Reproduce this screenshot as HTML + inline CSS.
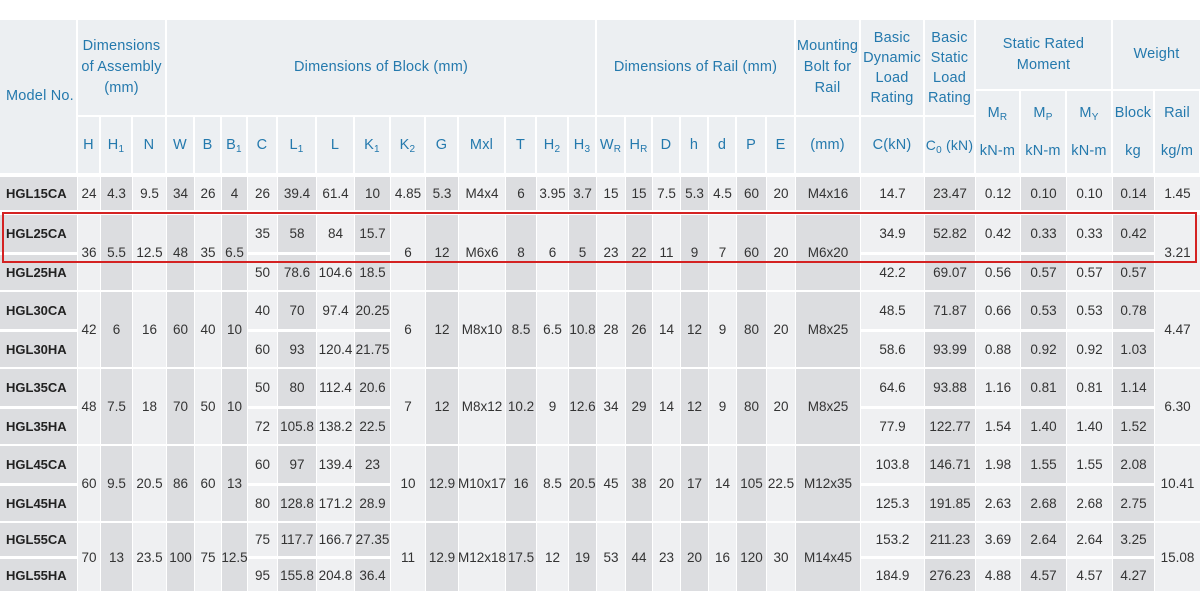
<!DOCTYPE html>
<html><head><meta charset="utf-8">
<style>
body{margin:0;width:1200px;height:600px;background:#fff;position:relative;overflow:hidden;font-family:"Liberation Sans",sans-serif}
.c{position:absolute;display:flex;align-items:center;justify-content:center;text-align:center;box-sizing:border-box}
.h{background:#eceff2;color:#2479ad;font-size:14.5px;line-height:21px;letter-spacing:0.2px}
.t{color:#333;font-size:13.5px}
sub{font-size:10px;vertical-align:-3px;line-height:0}
</style></head><body>
<script>
const cols=[[0,77],[78,100],[101,132],[133,166],[167,194],[195,221],[222,247],[248,277],[278,316],[317,354],[355,390],[391,425],[426,458],[459,505],[506,536],[537,568],[569,596],[597,625],[626,652],[653,680],[681,708],[709,736],[737,766],[767,795],[796,860],[861,924],[925,975],[976,1020],[1021,1066],[1067,1112],[1113,1154],[1155,1200]];
let out="";
function cell(x0,x1,y0,y1,bg,txt,cls,extra){out+=`<div class="c ${cls}" style="left:${x0}px;top:${y0}px;width:${x1-x0}px;height:${y1-y0}px;background:${bg};${extra||''}"><span>${txt}</span></div>`;}
const LIGHT="#eff0f2",DARK="#dcdde0",HB="#eceff2";
function H(x0,x1,y0,y1,t,ex){cell(x0,x1,y0,y1,HB,t,"h",ex);}
H(0,76,20,173,"Model No.","justify-content:flex-start;padding-left:6px;");
H(78,165,20,115,"Dimensions<br>of Assembly<br>(mm)");
H(167,595,20,115,"Dimensions of Block (mm)");
H(597,794,20,115,"Dimensions of Rail (mm)");
H(796,859,20,115,"Mounting<br>Bolt for<br>Rail");
H(861,923,20,115,"Basic<br>Dynamic<br>Load<br>Rating","line-height:20px");
H(925,974,20,115,"Basic<br>Static<br>Load<br>Rating","line-height:20px");
H(976,1111,20,89,"Static Rated<br>Moment");
H(1113,1200,20,89,"Weight");
const sub=["H","H<sub>1</sub>","N","W","B","B<sub>1</sub>","C","L<sub>1</sub>","L","K<sub>1</sub>","K<sub>2</sub>","G","Mxl","T","H<sub>2</sub>","H<sub>3</sub>","W<sub>R</sub>","H<sub>R</sub>","D","h","d","P","E","(mm)","C(kN)","C<sub>0</sub> (kN)"];
for(let i=1;i<=26;i++){H(cols[i][0],cols[i][1]-1,117,173,sub[i-1],i==26?"white-space:nowrap;font-size:14px":"white-space:nowrap");}
const mh=["M<sub>R</sub><br><br>kN-m","M<sub>P</sub><br><br>kN-m","M<sub>Y</sub><br><br>kN-m","Block<br><br>kg","Rail<br><br>kg/m"];
for(let i=27;i<=31;i++){H(cols[i][0],cols[i][1]-1,91,173,mh[i-27],"line-height:19px;white-space:nowrap");}
const groups=[
[177,210,["HGL15CA"],[["24","4.3","9.5","34","26","4","26","39.4","61.4","10","4.85","5.3","M4x4","6","3.95","3.7","15","15","7.5","5.3","4.5","60","20","M4x16","14.7","23.47","0.12","0.10","0.10","0.14","1.45"]]],
[215,290,["HGL25CA","HGL25HA"],[["36","5.5","12.5","48","35","6.5"],["35","58","84","15.7"],["50","78.6","104.6","18.5"],["6","12","M6x6","8","6","5","23","22","11","9","7","60","20","M6x20"],["34.9","52.82","0.42","0.33","0.33","0.42"],["42.2","69.07","0.56","0.57","0.57","0.57"],["3.21"]]],
[292,367,["HGL30CA","HGL30HA"],[["42","6","16","60","40","10"],["40","70","97.4","20.25"],["60","93","120.4","21.75"],["6","12","M8x10","8.5","6.5","10.8","28","26","14","12","9","80","20","M8x25"],["48.5","71.87","0.66","0.53","0.53","0.78"],["58.6","93.99","0.88","0.92","0.92","1.03"],["4.47"]]],
[369,444,["HGL35CA","HGL35HA"],[["48","7.5","18","70","50","10"],["50","80","112.4","20.6"],["72","105.8","138.2","22.5"],["7","12","M8x12","10.2","9","12.6","34","29","14","12","9","80","20","M8x25"],["64.6","93.88","1.16","0.81","0.81","1.14"],["77.9","122.77","1.54","1.40","1.40","1.52"],["6.30"]]],
[446,521,["HGL45CA","HGL45HA"],[["60","9.5","20.5","86","60","13"],["60","97","139.4","23"],["80","128.8","171.2","28.9"],["10","12.9","M10x17","16","8.5","20.5","45","38","20","17","14","105","22.5","M12x35"],["103.8","146.71","1.98","1.55","1.55","2.08"],["125.3","191.85","2.63","2.68","2.68","2.75"],["10.41"]]],
[523,591,["HGL55CA","HGL55HA"],[["70","13","23.5","100","75","12.5"],["75","117.7","166.7","27.35"],["95","155.8","204.8","36.4"],["11","12.9","M12x18","17.5","12","19","53","44","23","20","16","120","30","M14x45"],["153.2","211.23","3.69","2.64","2.64","3.25"],["184.9","276.23","4.88","4.57","4.57","4.27"],["15.08"]]]
];
function colbg(i){return i%2==0?DARK:LIGHT;}
const MS="justify-content:flex-start;padding-left:6px;font-weight:bold;color:#222;font-size:13px;";
groups.forEach(g=>{
 const [y0,y1,names,d]=g;
 if(names.length===1){
  const v=d[0];
  cols.forEach((c,i)=>{ if(i===0) cell(c[0],c[1],y0,y1,DARK,names[0],"t",MS);
   else cell(c[0],c[1],y0,y1,colbg(i),v[i-1],"t");});
 } else {
  const mid=Math.round((y0+y1)/2), a=mid-1, b=mid+2;
  const [m1,ca1,ha1,m2,ca2,ha2,rail]=d;
  cols.forEach((c,i)=>{
   const B=colbg(i);
   if(i===0){cell(c[0],c[1],y0,a,DARK,names[0],"t",MS);cell(c[0],c[1],b,y1,DARK,names[1],"t",MS);}
   else if(i<=6) cell(c[0],c[1],y0,y1,B,m1[i-1],"t");
   else if(i<=10){cell(c[0],c[1],y0,a,B,ca1[i-7],"t");cell(c[0],c[1],b,y1,B,ha1[i-7],"t");}
   else if(i<=24) cell(c[0],c[1],y0,y1,B,m2[i-11],"t");
   else if(i<=30){cell(c[0],c[1],y0,a,B,ca2[i-25],"t");cell(c[0],c[1],b,y1,B,ha2[i-25],"t");}
   else cell(c[0],c[1],y0,y1,B,rail[0],"t");
  });
 }
});
out+=`<div style="position:absolute;left:2px;top:212px;width:1191px;height:47px;border:2.5px solid #d42222"></div>`;
document.write(out);
</script>
</body></html>
